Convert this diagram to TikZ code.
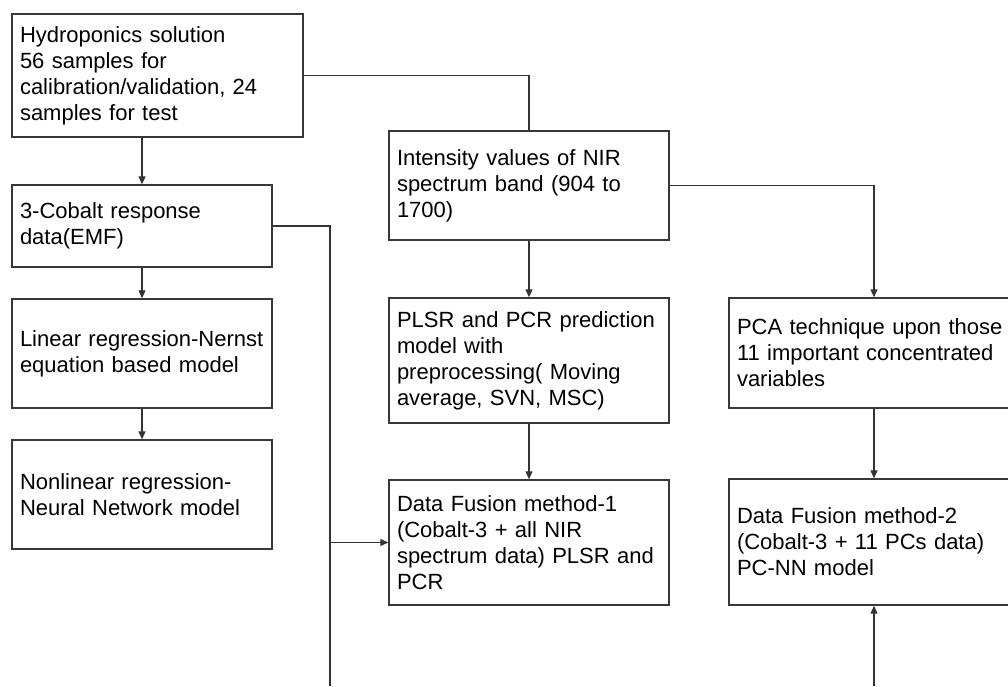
\documentclass[tikz,border=0pt]{standalone}
\usepackage{fontspec}
\setmainfont{Liberation Sans}
\usetikzlibrary{positioning,arrows.meta,calc}

\begin{document}
\begin{tikzpicture}[x=1pt, y=-1pt,
  box/.style={draw=black!78, line width=1.4pt, inner xsep=8pt, inner ysep=0pt,
              align=left, font=\fontsize{22}{26}\selectfont},
  link/.style={draw=black!80, line width=1.2pt},
  arr/.style={link, -{Triangle[length=8pt, width=7pt]}},
]
\path[use as bounding box, clip] (0,0) rectangle (1008,686);

% Left column: samples and Cobalt models
\node[box, text width=275pt, minimum height=123pt] (hydro) at (157.5,75.5)
  {Hydroponics solution\\56 samples for\\calibration/validation, 24\\samples for test};
\node[box, text width=244pt, minimum height=82pt] (cobalt) at (142,226)
  {3-Cobalt response\\data(EMF)};
\node[box, text width=244pt, minimum height=109pt] (linreg) at (142,353.5)
  {Linear regression-Nernst\\equation based model};
\node[box, text width=244pt, minimum height=109pt] (nonlin) at (142,494.5)
  {Nonlinear regression-\\Neural Network model};

% Middle column: NIR spectrum
\node[box, text width=264pt, minimum height=109pt] (nir) at (529,185.5)
  {Intensity values of NIR\\spectrum band (904 to\\1700)};
\node[box, text width=264pt, minimum height=125pt] (plsr) at (529,360.5)
  {PLSR and PCR prediction\\model with\\preprocessing( Moving\\average, SVN, MSC)};
\node[box, text width=264pt, minimum height=125pt] (fus1) at (529,542.5)
  {Data Fusion method-1\\(Cobalt-3 + all NIR\\spectrum data) PLSR and\\PCR};

% Right column: PCA branch
\node[box, text width=274pt, minimum height=110pt] (pca) at (874,353)
  {PCA technique upon those\\11 important concentrated\\variables};
\node[box, text width=274pt, minimum height=126pt] (fus2) at (874,542)
  {Data Fusion method-2\\(Cobalt-3 + 11 PCs data)\\PC-NN model};

% loose ends running off the bottom
\coordinate (busend) at (330,686);
\coordinate (pcend) at (874,686);

% Connectors
\draw[link] (hydro.east) -| (nir.north);
\draw[arr] (hydro.south -| cobalt.north) -- (cobalt.north);
\draw[arr] (cobalt) -- (linreg);
\draw[arr] (linreg) -- (nonlin);
\draw[link] (cobalt.east) -| (busend);
\draw[arr] (busend |- fus1.west) -- (fus1.west);
\draw[arr] (nir) -- (plsr);
\draw[arr] (plsr) -- (fus1);
\draw[arr] (nir.east) -| (pca.north);
\draw[arr] (pca) -- (fus2);
\draw[arr] (pcend) -- (fus2.south);
\end{tikzpicture}
\end{document}
